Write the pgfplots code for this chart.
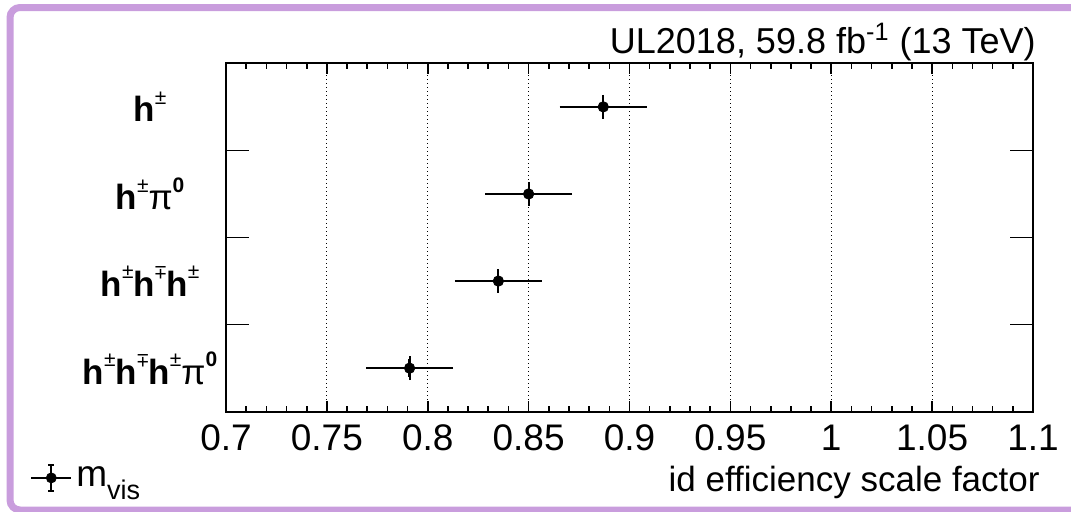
\documentclass[border=0pt]{standalone}
\usepackage{pgfplots}
\pgfplotsset{compat=1.18}
\usepackage{fontspec}
\setmainfont{Liberation Sans}
\definecolor{frame}{RGB}{201,157,221}
\newcommand{\supr}[1]{\raisebox{0.5em}{\fontsize{10.5}{10.5}\selectfont #1}}
\newcommand{\pmsup}{\supr{\mdseries ±}}
\newcommand{\mpsup}{\supr{\mdseries\raisebox{\depth}{\scalebox{1}[-1]{±}}}}
\newcommand{\pizero}{{\mdseries π}\supr{\bfseries 0}}
\newcommand{\catfont}{\fontsize{17.5}{17.5}\selectfont\bfseries}
\pgfplotsset{
  frameaxis/.style={at={(113pt,49.65pt)}, anchor=south west, scale only axis,
    width=403.5pt, height=174.2pt,
    xmin=0.7, xmax=1.1, ymin=-0.5, ymax=3.5},
}
\begin{document}
\begin{tikzpicture}
\useasboundingbox (0,0) rectangle (535.5pt,255.5pt);
\clip (0,0) rectangle (535.5pt,255.5pt);
\draw[frame, line width=3.5pt, rounded corners=5pt] (5pt,0.5pt) rectangle (545pt,251.75pt);
% data, grid, tick labels, legend
\begin{axis}[frameaxis,
  axis line style={line width=1pt},
  major tick length=0pt, minor tick length=0pt,
  xtick={0.7,0.75,0.8,0.85,0.9,0.95,1,1.05,1.1},
  xmajorgrids,
  grid style={black, line width=0.5pt, dash pattern=on 0.5pt off 1.5pt},
  xticklabel style={font=\fontsize{18.5}{18.5}\selectfont, yshift=-3pt},
  /pgf/number format/assume math mode=true,
  ytick=\empty,
  legend style={at={(-0.243,-0.19)}, anchor=west, draw=none, fill=none, inner sep=0pt,
    font=\fontsize{18.5}{18.5}\selectfont},
  legend cell align=left,
]
\addplot[black, only marks, mark=*, mark size=2.6pt, forget plot,
  error bars/.cd, x dir=both, x explicit, y dir=both, y explicit,
  error bar style={line width=1.1pt},
  error mark options={line width=1pt, mark size=1.6pt},
  ]
  coordinates {
  (0.887,3) +- (0.020,0.1)
  (0.850,2) +- (0.020,0.1)
  (0.835,1) +- (0.020,0.1)
  (0.791,0) +- (0.020,0.1)
  };
\addlegendimage{legend image code/.code={
  \draw[black, line width=1pt] (0pt,0pt) -- (20pt,0pt);
  \draw[black, line width=1pt] (10pt,-6.7pt) -- (10pt,6.7pt);
  \draw[black, line width=1pt] (8.5pt,-6.7pt) -- (11.5pt,-6.7pt);
  \draw[black, line width=1pt] (8.5pt,6.7pt) -- (11.5pt,6.7pt);
  \fill[black] (10pt,0pt) circle (2.5pt);
}}
\addlegendentry{m\raisebox{-0.35em}{\fontsize{13.5}{13.5}\selectfont vis}}
\end{axis}
% x ticks
\begin{axis}[frameaxis,
  axis line style={draw=none},
  xtick pos=both, xtick align=inside,
  xtick style={draw=black, line width=0.8pt},
  major tick length=5.5pt, minor tick length=3pt,
  xtick={0.7,0.75,0.8,0.85,0.9,0.95,1,1.05,1.1},
  minor xtick={0.71,0.72,0.73,0.74,0.76,0.77,0.78,0.79,0.81,0.82,0.83,0.84,0.86,0.87,0.88,0.89,0.91,0.92,0.93,0.94,0.96,0.97,0.98,0.99,1.01,1.02,1.03,1.04,1.06,1.07,1.08,1.09},
  xticklabels={}, ytick=\empty,
]
\end{axis}
% y ticks and category labels
\begin{axis}[frameaxis,
  axis line style={draw=none},
  tick style={black, line width=0.8pt},
  major tick length=11.5pt,
  xtick=\empty, ytick={0.5,1.5,2.5}, yticklabels={},
  extra y ticks={0,1,2,3},
  extra y tick labels={{h\pmsup h\mpsup h\pmsup\pizero},{h\pmsup h\mpsup h\pmsup},{h\pmsup\pizero},{h\pmsup}},
  extra y tick style={major tick length=0pt,
    yticklabel style={font=\catfont, anchor=center, inner sep=0pt, xshift=-38pt}},
]
\end{axis}
\node[anchor=base east, font=\fontsize{18}{18}\selectfont, inner sep=0pt] at (518pt,229pt)
  {UL2018, 59.8 fb\textsuperscript{-1} (13 TeV)};
\node[anchor=base east, font=\fontsize{17.5}{17.5}\selectfont, inner sep=0pt] at (520pt,10pt)
  {id efficiency scale factor};
\end{tikzpicture}
\end{document}
